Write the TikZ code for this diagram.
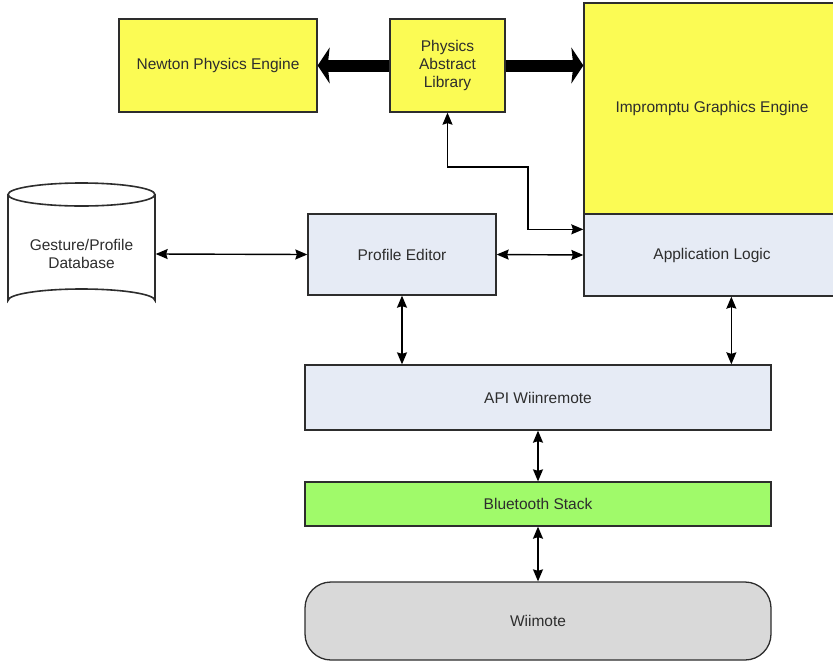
\documentclass[tikz,border=0pt]{standalone}
\usepackage{fontspec}
\setmainfont{Liberation Sans}
\usepackage{tikz}
\usetikzlibrary{arrows.meta}
\usepackage{xcolor}
\definecolor{boxyellow}{RGB}{251,251,84}
\definecolor{boxblue}{RGB}{230,235,245}
\definecolor{boxgreen}{RGB}{160,250,106}
\definecolor{boxgrey}{RGB}{217,217,217}
\definecolor{edgegrey}{RGB}{45,45,45}

\begin{document}
\begin{tikzpicture}[x=1pt, y=-1pt,
    box/.style={draw=edgegrey, line width=1.3pt, text=edgegrey, align=center, inner sep=0pt,
      font=\fontsize{15.5}{18}\selectfont},
    link/.style={{Stealth[length=12pt,width=10pt,inset=1.5pt]}-{Stealth[length=12pt,width=10pt,inset=1.5pt]}, line width=1.4pt, draw=black},
    fat/.style={-{Stealth[length=12pt,width=36pt,inset=2pt]}, line width=12pt, draw=black}]
    \useasboundingbox (0,0) rectangle (833,662);
    \node (newton) at (218,65.5) [box, fill=boxyellow, minimum width=198pt, minimum height=93pt] {Newton Physics Engine};
    \node (pal) at (447.5,65.5) [box, fill=boxyellow, minimum width=115pt, minimum height=93pt] {Physics\\Abstract\\Library};
    \node (gfx) at (712,108.5) [box, fill=boxyellow, minimum width=256pt, minimum height=211pt] {Impromptu Graphics Engine};
    \node (app) at (712,255) [box, fill=boxblue, minimum width=256pt, minimum height=82pt] {Application Logic};
    \node (pe) at (402,254.5) [box, fill=boxblue, minimum width=188pt, minimum height=81pt] {Profile Editor};
    \node (api) at (538,397.5) [box, fill=boxblue, minimum width=466pt, minimum height=65pt] {API Wiinremote};
    \node (bt) at (538,504) [box, fill=boxgreen, minimum width=466pt, minimum height=44pt] {Bluetooth Stack};
    \node (wii) at (538,621) [box, fill=boxgrey, rounded corners=26pt, minimum width=466pt, minimum height=78pt] {Wiimote};
    % database cylinder
    \draw[edgegrey, fill=white, line width=1.6pt] (8,194.5) -- (8,300.5) arc (180:360:73.5 and 11.5) -- (155,194.5);
    \draw[edgegrey, fill=white, line width=1.6pt] (81.5,194.5) ellipse (73.5 and 11.5);
    \node (db) at (81.5,254) [box, draw=none, minimum width=147pt, minimum height=90pt] {Gesture/Profile\\Database};
    % connectors
    \draw[fat] (pal.west) -- (newton.east);
    \draw[fat] (pal.east) -- (gfx.west |- pal.east);
    \draw[link] (pal.south) |- (528,167) |- ([yshift=-16pt]app.north west);
    \draw[link] (db.east) -- (pe.west);
    \draw[link] (pe.east) -- (app.west);
    \draw[link] (pe.south) -- (pe.south |- api.north);
    \draw[link] ([xshift=148pt]app.south west) -- ([xshift=148pt]app.south west |- api.north);
    \draw[link] (api.south) -- (bt.north);
    \draw[link] (bt.south) -- (wii.north);
\end{tikzpicture}
\end{document}
